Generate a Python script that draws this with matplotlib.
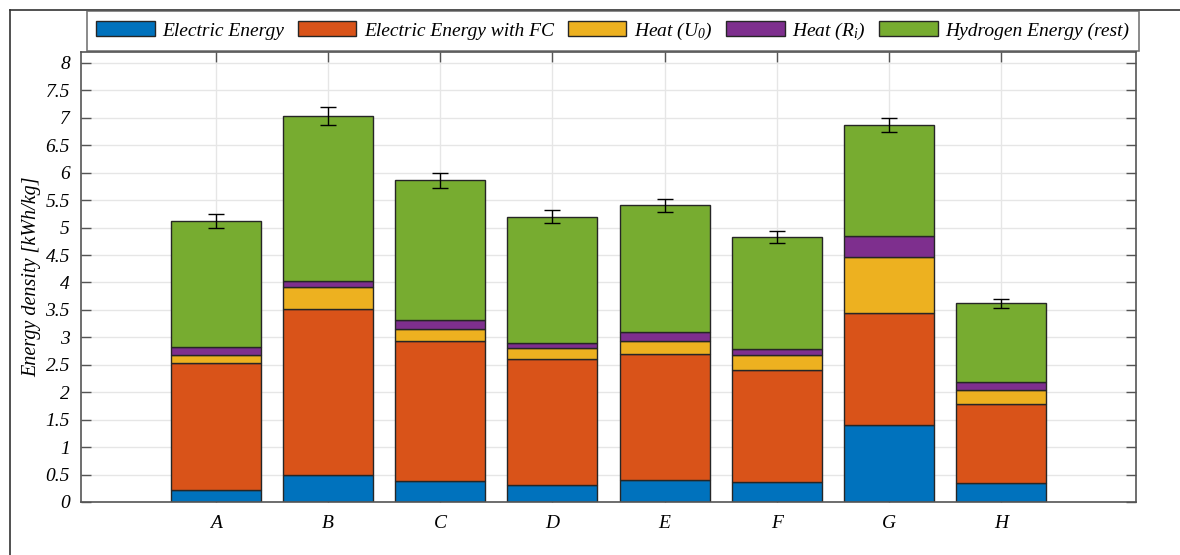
import matplotlib
matplotlib.use("Agg")
import matplotlib.pyplot as plt
import numpy as np
from matplotlib.lines import Line2D

categories = ["A", "B", "C", "D", "E", "F", "G", "H"]
series_names = ["Electric Energy", "Electric Energy with FC", r"Heat ($\mathit{U_0}$)",
                r"Heat ($\mathit{R_i}$)", "Hydrogen Energy (rest)"]
# cumulative tops
electric = [0.22, 0.49, 0.38, 0.31, 0.40, 0.36, 1.41, 0.34]
electric_fc_top = [2.53, 3.51, 2.94, 2.61, 2.70, 2.41, 3.44, 1.79]
heat_u0_top = [2.67, 3.91, 3.16, 2.80, 2.93, 2.67, 4.47, 2.04]
heat_ri_top = [2.82, 4.02, 3.31, 2.90, 3.10, 2.78, 4.84, 2.18]
total = [5.12, 7.03, 5.86, 5.20, 5.41, 4.83, 6.87, 3.62]
err = [0.12, 0.16, 0.13, 0.12, 0.12, 0.11, 0.13, 0.08]

colors = ["#0072BD", "#D95319", "#EDB120", "#7E2F8E", "#77AC30"]

plt.rcParams["font.family"] = ["Liberation Serif", "DejaVu Serif"]
plt.rcParams["font.style"] = "italic"
plt.rcParams["mathtext.fontset"] = "custom"
plt.rcParams["mathtext.rm"] = "Liberation Serif:italic"
plt.rcParams["mathtext.it"] = "Liberation Serif:italic"

fig = plt.figure(figsize=(11.8, 5.55), dpi=100)
ax = fig.add_axes([81/1180, 1-502/555, (1136-81)/1180, (502-52)/555])

x = np.arange(1, len(categories)+1)
cum = [np.array(electric), np.array(electric_fc_top), np.array(heat_u0_top),
       np.array(heat_ri_top), np.array(total)]
bottoms = [np.zeros(len(x))] + cum[:-1]
handles = []
for i in range(5):
    h = ax.bar(x, cum[i]-bottoms[i], bottom=bottoms[i], width=0.8, color=colors[i],
               edgecolor="#262626", linewidth=1.0, zorder=2, label=series_names[i])
    handles.append(h)
ax.errorbar(x, total, yerr=err, fmt="none", ecolor="black", elinewidth=1.0,
            capsize=5.5, capthick=1.0, zorder=3)

ax.set_xlim(-0.2, 9.2)
ax.set_ylim(0, 8.2)
ax.set_xticks(x)
ax.set_xticklabels(categories)
yt = np.arange(0, 8.01, 0.5)
ax.set_yticks(yt)
ax.set_yticklabels([("%g" % v) for v in yt])
ax.tick_params(axis="both", direction="in", length=7, width=1.0, color="#555555",
               labelsize=14, top=True, right=True, pad=8)
ax.tick_params(axis="x", pad=9)
ax.grid(True, color="#e6e6e6", linewidth=1.0, zorder=0)
ax.set_axisbelow(True)
for s in ax.spines.values():
    s.set_color("#555555")
    s.set_linewidth(1.2)
ax.set_ylabel("Energy density [kWh/kg]", fontsize=14.5, labelpad=3)

leg = fig.legend(handles=handles, labels=series_names, loc="center",
                 bbox_to_anchor=(613/1180, 1-31/555), ncol=5, fontsize=14,
                 frameon=True, fancybox=False, edgecolor="#555555",
                 handlelength=3.0, handleheight=0.8, handletextpad=0.4,
                 columnspacing=0.7, borderpad=0.5)
leg.get_frame().set_linewidth(1.2)

# outer figure frame lines
fig.add_artist(Line2D([10/1180, 1.0], [1-10/555, 1-10/555], transform=fig.transFigure,
                      color="#333333", linewidth=1.2))
fig.add_artist(Line2D([10/1180, 10/1180], [1-10/555, 0.0], transform=fig.transFigure,
                      color="#333333", linewidth=1.2))

fig.savefig("out.png", dpi=100)
